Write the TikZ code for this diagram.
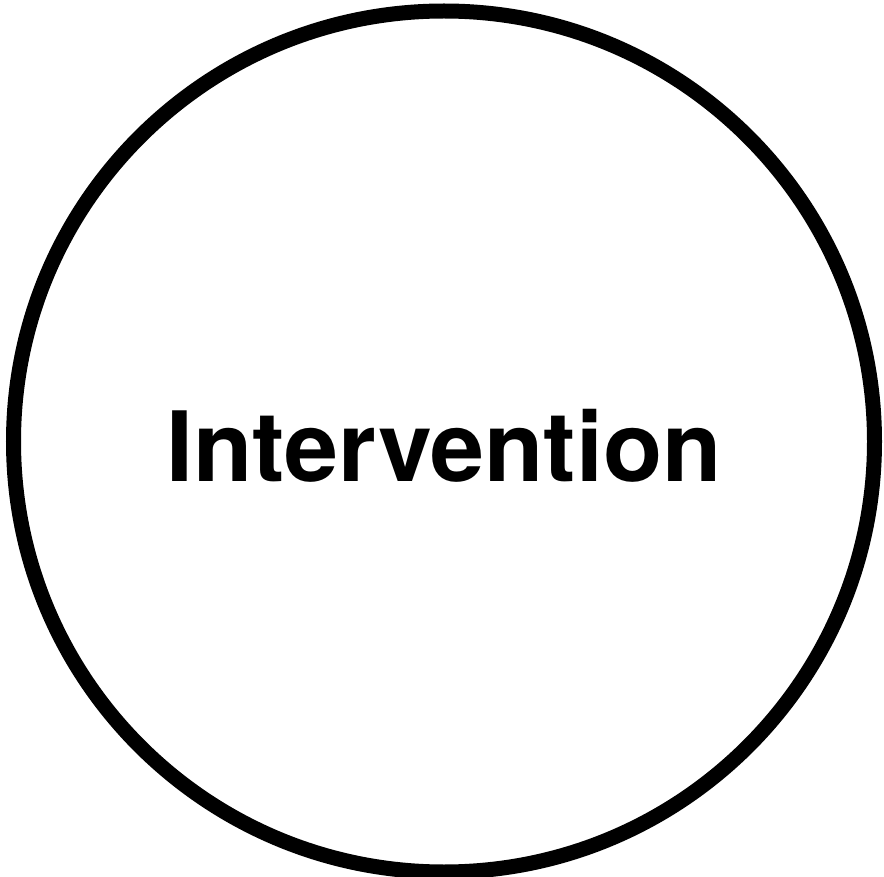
\documentclass[tikz,border=0pt]{standalone}
\usepackage{fontspec}
\setmainfont{TeX Gyre Heros}
\begin{document}
\begin{tikzpicture}[x=1pt,y=-1pt,
  ring/.style={draw=black,line width=15pt,circle,minimum size=861pt,inner sep=0pt,fill=white},
  label/.style={font=\fontsize{97}{110}\selectfont\bfseries,inner sep=0pt}]
\useasboundingbox[fill=white] (0,0) rectangle (884,877);
\node[ring] (c) at (444,441.5) {};
\node[label,anchor=base] (t) at (444,481) {Intervention};
\end{tikzpicture}
\end{document}
